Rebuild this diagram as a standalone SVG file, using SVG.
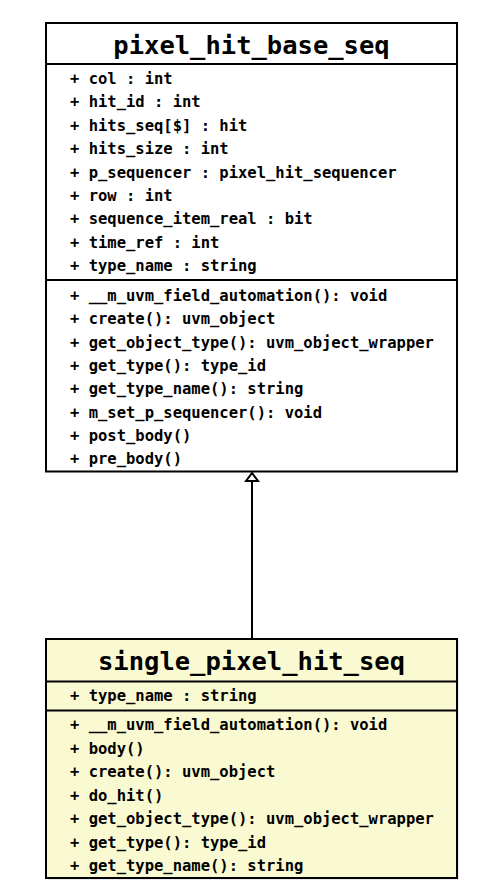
<svg xmlns="http://www.w3.org/2000/svg" width="493" height="892" viewBox="0 0 493 892">
<style>
  .box { stroke: #000; stroke-width: 2; }
  .sep { stroke: #000; stroke-width: 2; }
  .title { font-family: "DejaVu Sans Mono", "Liberation Mono", monospace; font-weight: bold; font-size: 25.5px; text-anchor: middle; fill: #000; }
  .row { font-family: "DejaVu Sans Mono", "Liberation Mono", monospace; font-weight: bold; font-size: 15.5px; fill: #000; }
  .edge { stroke: #000; stroke-width: 2; fill: none; }
  .head { stroke: #000; stroke-width: 2; fill: #fff; stroke-linejoin: miter; }
</style>
<rect width="493" height="892" fill="#fff"/>
<g id="pixel_hit_base_seq">
  <rect class="box" x="46" y="23" width="411" height="448.5" fill="#fff"/>
  <line class="sep" x1="46" y1="64" x2="457" y2="64"/>
  <line class="sep" x1="46" y1="280" x2="457" y2="280"/>
  <text class="title" x="251.5" y="54">pixel_hit_base_seq</text>
  <text class="row" x="70" y="84">+ col : int</text>
  <text class="row" x="70" y="107.4">+ hit_id : int</text>
  <text class="row" x="70" y="130.8">+ hits_seq[$] : hit</text>
  <text class="row" x="70" y="154.2">+ hits_size : int</text>
  <text class="row" x="70" y="177.6">+ p_sequencer : pixel_hit_sequencer</text>
  <text class="row" x="70" y="201">+ row : int</text>
  <text class="row" x="70" y="224.4">+ sequence_item_real : bit</text>
  <text class="row" x="70" y="247.8">+ time_ref : int</text>
  <text class="row" x="70" y="271.2">+ type_name : string</text>
  <text class="row" x="70" y="301">+ __m_uvm_field_automation(): void</text>
  <text class="row" x="70" y="324.3">+ create(): uvm_object</text>
  <text class="row" x="70" y="347.6">+ get_object_type(): uvm_object_wrapper</text>
  <text class="row" x="70" y="370.9">+ get_type(): type_id</text>
  <text class="row" x="70" y="394.2">+ get_type_name(): string</text>
  <text class="row" x="70" y="417.5">+ m_set_p_sequencer(): void</text>
  <text class="row" x="70" y="440.8">+ post_body()</text>
  <text class="row" x="70" y="464.1">+ pre_body()</text>
</g>
<g id="single_pixel_hit_seq">
  <rect x="48" y="641" width="411" height="239" fill="#d8d8d8" opacity="0.6"/>
  <rect class="box" x="46" y="639" width="411" height="239" fill="#fafad2"/>
  <line class="sep" x1="46" y1="681.5" x2="457" y2="681.5"/>
  <line class="sep" x1="46" y1="710.5" x2="457" y2="710.5"/>
  <text class="title" x="251.5" y="670">single_pixel_hit_seq</text>
  <text class="row" x="70" y="701">+ type_name : string</text>
  <text class="row" x="70" y="730">+ __m_uvm_field_automation(): void</text>
  <text class="row" x="70" y="753.5">+ body()</text>
  <text class="row" x="70" y="777">+ create(): uvm_object</text>
  <text class="row" x="70" y="800.5">+ do_hit()</text>
  <text class="row" x="70" y="824">+ get_object_type(): uvm_object_wrapper</text>
  <text class="row" x="70" y="847.5">+ get_type(): type_id</text>
  <text class="row" x="70" y="871">+ get_type_name(): string</text>
</g>
<g id="connectors">
  <path class="edge" d="M252,638 L252,481"/>
  <polygon class="head" points="252,473 246,481 258,481"/>
</g>
</svg>
